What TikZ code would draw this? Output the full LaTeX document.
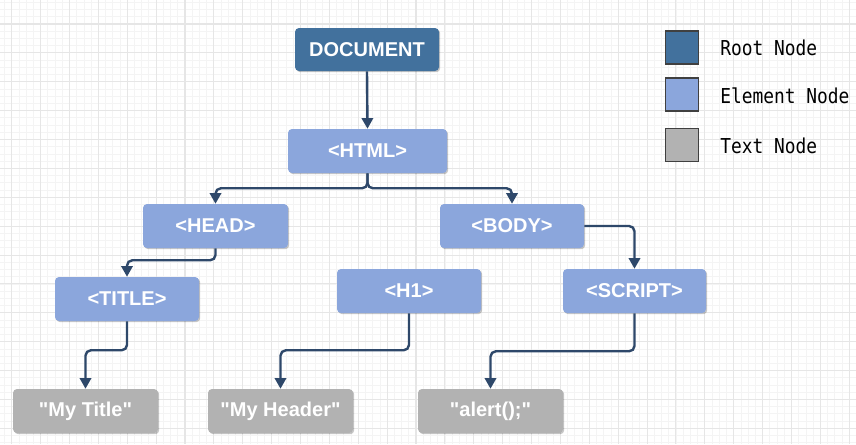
\documentclass[tikz,border=0pt]{standalone}
\usepackage{fontspec}
\setmainfont{Liberation Sans}
\newfontfamily\boxfont{Liberation Sans}
\newfontfamily\legendfont[FakeStretch=0.87]{DejaVu Sans Mono}
\usetikzlibrary{arrows.meta,shadows}
\definecolor{rootc}{RGB}{66,113,157}
\definecolor{elemc}{RGB}{139,166,220}
\definecolor{textc}{RGB}{178,178,178}
\definecolor{connc}{RGB}{46,72,106}
\definecolor{gridmaj}{RGB}{230,230,230}
\definecolor{gridmin}{RGB}{244,244,244}
\tikzset{
  box/.style={rectangle, rounded corners=3pt, inner sep=0pt,
    minimum height=44*0.75pt, text=white,
    font=\boxfont\fontsize{15}{18}\selectfont\bfseries,
    drop shadow={shadow xshift=0.9pt, shadow yshift=-0.9pt, fill=black, opacity=0.22}},
  rootbox/.style={box, fill=rootc},
  elembox/.style={box, fill=elemc},
  textbox/.style={box, fill=textc},
  conn/.style={draw=connc, line width=1.8pt, rounded corners=4pt,
    -{Triangle[width=8.5pt,length=8pt]}},
  legsq/.style={rectangle, draw=black!75, line width=0.9pt, inner sep=0pt,
    minimum width=33*0.75pt, minimum height=33*0.75pt},
  legtxt/.style={anchor=base west, inner sep=0pt, text=black,
    font=\legendfont\fontsize{15.4}{18}\selectfont}
}
\begin{document}
\begin{tikzpicture}[x=0.75pt,y=-0.75pt]
\useasboundingbox (0,0) rectangle (856,444);
\fill[white] (0,0) rectangle (856,444);
\begin{scope}
\clip (0,0) rectangle (856,444);
\foreach \i in {0,...,119} {
  \draw[gridmin, line width=0.6pt] ({4.48+7.22*\i},0) -- ({4.48+7.22*\i},444);
}
\foreach \i in {0,...,62} {
  \draw[gridmin, line width=0.6pt] (0,{2.34+7.22*\i}) -- (856,{2.34+7.22*\i});
}
\foreach \i in {0,...,30} {
  \draw[gridmaj, line width=0.8pt] ({11.7+28.88*\i},0) -- ({11.7+28.88*\i},444);
}
\foreach \i in {0,...,15} {
  \draw[gridmaj, line width=0.8pt] (0,{24+28.88*\i}) -- (856,{24+28.88*\i});
}
\end{scope}

% nodes
\node[rootbox, minimum width=144*0.75pt, minimum height=43*0.75pt] (doc) at (367,49.5) {DOCUMENT};
\node[elembox, minimum width=159*0.75pt] (html) at (367.5,151) {<HTML>};
\node[elembox, minimum width=145*0.75pt] (head) at (215.5,226) {<HEAD>};
\node[elembox, minimum width=144*0.75pt] (body) at (512,226) {<BODY>};
\node[elembox, minimum width=144*0.75pt] (title) at (127,299) {<TITLE>};
\node[elembox, minimum width=144*0.75pt] (h1) at (409,291) {<H1>};
\node[elembox, minimum width=143*0.75pt] (script) at (634.5,291) {<SCRIPT>};
\node[textbox, minimum width=145*0.75pt] (mytitle) at (85.5,411) {"My Title"};
\node[textbox, minimum width=145*0.75pt] (myheader) at (280.5,411) {"My Header"};
\node[textbox, minimum width=145*0.75pt] (alert) at (490.5,411) {"alert();"};

% connectors
\draw[conn] (doc.south) -- (html.north);
\draw[conn] (html.south) -- ++(0,15) -| (head.north);
\draw[conn] (html.south) -- ++(0,15) -| (body.north);
\draw[conn] (head.south) -- ++(0,12) -| (title.north);
\draw[conn] (body.east) -| (script.north);
\draw[conn] (title.south) -- ++(0,29) -| (mytitle.north);
\draw[conn] (h1.south) -- ++(0,37) -| (myheader.north);
\draw[conn] (script.south) -- ++(0,38) -| (alert.north);

% legend
\node[legsq, fill=rootc] (lroot) at (682,47.5) {};
\node[legsq, fill=elemc] (lelem) at (682,94.5) {};
\node[legsq, fill=textc] (ltext) at (682,145) {};
\node[legtxt] (troot) at (720,55.5) {Root Node};
\node[legtxt] (telem) at (720,103.3) {Element Node};
\node[legtxt] (ttext) at (720,153.3) {Text Node};
\end{tikzpicture}
\end{document}
